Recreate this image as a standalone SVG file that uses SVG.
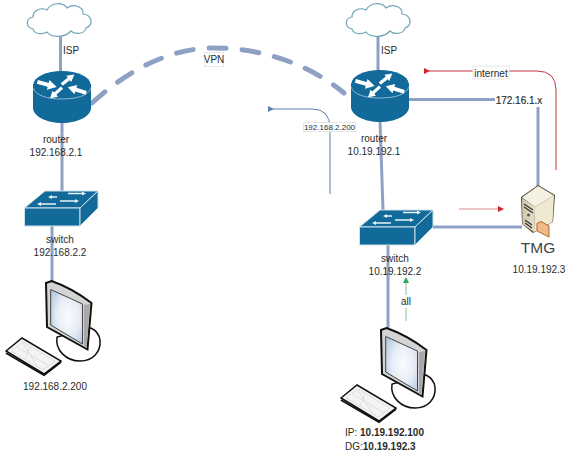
<svg xmlns="http://www.w3.org/2000/svg" width="576" height="461" viewBox="0 0 576 461">
<style>
text{font-family:"Liberation Sans",Arial,sans-serif;font-size:10px;fill:#2a2a2a;text-anchor:middle}
.b{font-weight:bold}
.l{text-anchor:start}
.link{fill:none;stroke:#8ea1c4;stroke-width:3}
.lab{fill:#fff;stroke:#e6e6e6;stroke-width:1}
.blue{fill:#116a9a}
.cl{fill:#fff;stroke:#6fa3b8;stroke-width:1.2}
</style>
<defs>
<marker id="ar" markerWidth="7" markerHeight="6" refX="1" refY="3" orient="auto" markerUnits="userSpaceOnUse"><path d="M6,0L0,3L6,6Z" fill="#d0232a"/></marker>
<marker id="ab" markerWidth="7" markerHeight="6" refX="1" refY="3" orient="auto" markerUnits="userSpaceOnUse"><path d="M6,0L0,3L6,6Z" fill="#5f80ad"/></marker>
<marker id="ap" markerWidth="7" markerHeight="6" refX="5" refY="3" orient="auto" markerUnits="userSpaceOnUse"><path d="M0,0L6,3L0,6Z" fill="#d0232a"/></marker>
<marker id="ag" markerWidth="6" markerHeight="7" refX="3" refY="5" orient="0" markerUnits="userSpaceOnUse"><path d="M0,6L3,0L6,6Z" fill="#2aa85e"/></marker>
<radialGradient id="scr" cx=".55" cy=".5" r=".65"><stop offset="0" stop-color="#fbfcfe"/><stop offset=".55" stop-color="#e6edf6"/><stop offset="1" stop-color="#b7c9e0"/></radialGradient>
<linearGradient id="srv" x1="0" y1="0" x2="1" y2="0"><stop offset="0" stop-color="#cfc6aa"/><stop offset="1" stop-color="#e6dfc8"/></linearGradient>
<path id="arrow" d="M-8,-1.6H1V-4L8,0L1,4V1.600H-8Z" fill="#fff"/>
<g id="cloud"><path class="cl" d="M33,29C25,27 26,18 33,17C33,10 41,7 47,10C51,2 63,2 67,8C74,3 84,7 83,14C92,15 94,25 86,28C85,34 75,35 71,31C65,38 51,38 47,32C42,35 34,34 33,29Z"/></g>
<g id="router">
<path class="blue" d="M33,84V108C33,116 46,123 62,123C78,123 91,116 91,108V84Z"/>
<path d="M33,88C36,96 48,99 62,99C76,99 88,96 91,88" fill="none" stroke="#8fb8cf" stroke-width="1"/>
<ellipse class="blue" cx="62" cy="84.5" rx="28.500" ry="13.500"/>
<use href="#arrow" transform="translate(47,84.500) rotate(15) scale(1.25)"/>
<use href="#arrow" transform="translate(68,79.500) rotate(-38)"/>
<use href="#arrow" transform="translate(77,90) rotate(-163) scale(1.2)"/>
<use href="#arrow" transform="translate(56,93) rotate(138)"/>
</g>
<g id="switch">
<path class="blue" stroke="#cfe0ea" stroke-width="1" d="M24.500,208L45,191H98L80,208Z"/>
<rect class="blue" stroke="#cfe0ea" stroke-width="1" x="24.500" y="208" width="55.500" height="18"/>
<path class="blue" stroke="#cfe0ea" stroke-width="1" d="M80,208L98,191V208L80,226Z"/>
<path d="M50,197H57M68,193.500H83M40,204H56M60,201H76" stroke="#e8f2f7" stroke-width="1.300" fill="none"/>
<path d="M52,195L48,197L52,199ZM82,191.500L86,193.500L82,195.500ZM41,202L37,204L41,206ZM75,199L79,201L75,203Z" fill="#e8f2f7"/>
</g>
<g id="pc">
<path d="M57,337C55,350 66,361 80,361C93,361 101,352 100,340C99,333 95,330 91,328Z" fill="#fff" stroke="#111" stroke-width="1.500"/>
<path d="M46,283L51.500,281C66,286 81,295 91.500,303L87.500,349.500L47,327Z" fill="#d4d4d4" stroke="#111" stroke-width="2"/>
<path d="M50.700,289.500L82.500,304V344L50.700,325Z" fill="url(#scr)" stroke="#444" stroke-width="1"/>
<path d="M84,305L90,304L86.500,348L84,347Z" fill="#a8a8a8"/>
<path d="M6,351L22,338L61,361L44,374Z" fill="#f4f4f4" stroke="#111" stroke-width="1.500"/>
<path d="M6,353L44,375L61,362" fill="none" stroke="#111" stroke-width="2"/>
<path d="M11,351L23,342L55,361L43,370ZM17,347L49,366M23,343L37,366M30,347L25,359" fill="none" stroke="#d4d4d4" stroke-width=".7"/>
</g>
</defs>

<g id="connectors">
<path class="link" d="M60.500,37V72M62,122V191M52,226V282"/>
<path class="link" d="M378,37V72M380,121L383,210M388,244V330M407,99.500H497M538,107V187M433,227H522"/>
<path class="link" style="stroke-width:5;stroke-linecap:round;stroke-dasharray:17 16" d="M92,103C130,68 172,48 214,48C262,48 309,64 344,93"/>
<path d="M330,194V128Q330,109 312,109H273" fill="none" stroke="#5f80ad" stroke-width="1" marker-end="url(#ab)"/>
<path d="M556,170V90Q556,71 537,71H429" fill="none" stroke="#c8323c" stroke-width="1" marker-end="url(#ar)"/>
<path d="M459,209H503" fill="none" stroke="#e08a90" stroke-width="1.200" marker-end="url(#ap)"/>
<path d="M406,321V282" fill="none" stroke="#9cc9ae" stroke-width="1.200" marker-end="url(#ag)"/>
</g>

<g id="cloud-left"><use href="#cloud"/></g>
<g id="cloud-right"><use href="#cloud" transform="translate(319,0)"/></g>
<g id="isp-left"><text x="71" y="54">ISP</text></g>
<g id="isp-right"><text x="389" y="54">ISP</text></g>

<g id="router-left"><use href="#router"/><text x="56" y="143">router</text><text x="56" y="156">192.168.2.1</text></g>
<g id="router-right"><use href="#router" transform="translate(318,-1)"/><text x="374" y="142">router</text><text x="374" y="155">10.19.192.1</text></g>
<g id="switch-left"><use href="#switch"/><text x="60" y="243">switch</text><text x="60" y="256">192.168.2.2</text></g>
<g id="switch-right"><use href="#switch" transform="translate(335,19)"/><text x="395" y="262">switch</text><text x="395" y="275">10.19.192.2</text></g>

<g id="pc-left"><use href="#pc"/><text x="55" y="390">192.168.2.200</text></g>
<g id="pc-right"><use href="#pc" transform="translate(335,47)"/>
<text class="l" x="345" y="436">IP: <tspan class="b">10.19.192.100</tspan></text>
<text class="l" x="345" y="450">DG:<tspan class="b">10.19.192.3</tspan></text></g>

<g id="tmg">
<path d="M521,197L538,185L555,195L553,222L533,233L522,224Z" fill="#4a4538"/>
<path d="M522,197.500L538,186L554,195.500L535,207Z" fill="#f4f0e2"/>
<path d="M522,198L535,207L534,232L522.500,224Z" fill="url(#srv)"/>
<path d="M535,207L554,195.500L552.500,222L534,232Z" fill="#efe8d2"/>
<path d="M524,204L533,210M524,207L533,213M525,220L532,225M525,223L532,228" stroke="#333" stroke-width="1.200"/>
<circle cx="528.500" cy="215" r="1.500" fill="#555"/>
<path d="M537,223.500L541,221.500L549,226V237L537,231Z" fill="#f0b98a" stroke="#b5651d" stroke-width="1"/>
<text x="538" y="253" style="font-size:15.500px;fill:#444">TMG</text>
<text x="539" y="273">10.19.192.3</text>
</g>

<g id="labels">
<rect class="lab" x="204.500" y="52.500" width="19" height="14"/><text x="214" y="63">VPN</text>
<rect class="lab" x="303.500" y="122.500" width="52" height="9"/><text x="329.500" y="130" style="font-size:8px">192.168.2.200</text>
<rect x="473" y="66" width="36" height="13" class="lab"/><text x="491" y="77">internet</text>
<rect x="495" y="94" width="47" height="12" fill="#fff"/><text x="519" y="104" style="stroke:#222;stroke-width:.15">172.16.1.x</text>
<rect x="400" y="295" width="12" height="13" fill="#fff"/><text x="406" y="305">all</text>
</g>
</svg>
